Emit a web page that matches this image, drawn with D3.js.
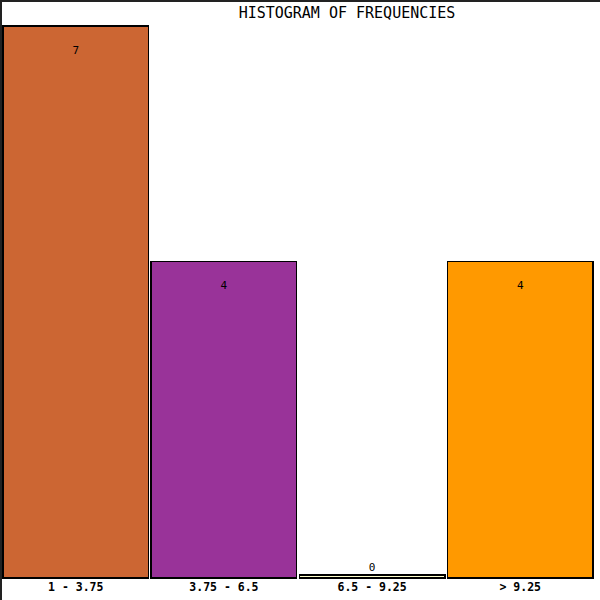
<!DOCTYPE html>
<html>
<head>
<meta charset="utf-8">
<script src="https://cdn.jsdelivr.net/npm/d3@7"></script>
<style>
  body { margin: 0; background: #fff; }
  svg { display: block; }
</style>
</head>
<body>
<svg id="chart" width="600" height="600"></svg>
<script>
const categories = ['1 - 3.75', '3.75 - 6.5', '6.5 - 9.25', '> 9.25'];
const counts = [7, 4, 0, 4];
const colors = ['#cc6633', '#993399', '#ffffcc', '#ff9900'];

const width = 600, height = 600;
const base = 578;   // bottom of the bars
const minH = 3;     // every bar keeps a small stub, so 0 still shows

const svg = d3.select('#chart');
svg.selectAll('*').remove();

// frame only on top and left
svg.append('path')
  .attr('d', `M1,${height} L1,1 L${width},1`)
  .attr('fill', 'none')
  .attr('stroke', '#222')
  .attr('stroke-width', 2);

const x = d3.scaleBand()
  .domain(categories)
  .range([3, 593])
  .paddingInner(0.018);

const y = d3.scaleLinear()
  .domain([0, d3.max(counts)])
  .range([base - minH, 26]);

const color = d3.scaleOrdinal().domain(categories).range(colors);

svg.append('text')
  .attr('x', 347)
  .attr('y', 18)
  .attr('text-anchor', 'middle')
  .style('font-family', '"DejaVu Sans Mono", monospace')
  .style('font-size', '15px')
  .text('HISTOGRAM OF FREQUENCIES');

const bars = svg.selectAll('g.bar')
  .data(categories.map((c, i) => ({ cat: c, n: counts[i] })))
  .enter()
  .append('g')
  .attr('class', 'bar');

bars.append('rect')
  .attr('x', d => x(d.cat))
  .attr('y', d => y(d.n))
  .attr('width', x.bandwidth())
  .attr('height', d => base - y(d.n))
  .attr('fill', d => color(d.cat))
  .attr('stroke', '#000')
  .attr('stroke-width', 1.5)
  .attr('shape-rendering', 'crispEdges');

// count label inside the bar, or just above it when the bar is empty
bars.append('text')
  .attr('x', d => x(d.cat) + x.bandwidth() / 2)
  .attr('y', d => d.n > 0 ? y(d.n) + 28 : y(d.n) - 4)
  .attr('text-anchor', 'middle')
  .style('font-family', '"DejaVu Sans Mono", monospace')
  .style('font-size', '11px')
  .text(d => d.n);

const xAxis = d3.axisBottom(x).tickSize(0).tickPadding(0);
const gx = svg.append('g')
  .attr('transform', `translate(0,${base})`)
  .call(xAxis);
gx.select('.domain').remove();
gx.selectAll('text')
  .attr('dy', 0)
  .attr('y', 13)
  .attr('fill', '#000')
  .style('font-family', '"DejaVu Sans Mono", monospace')
  .style('font-size', '11.5px')
  .style('font-weight', 'bold');
</script>
</body>
</html>
